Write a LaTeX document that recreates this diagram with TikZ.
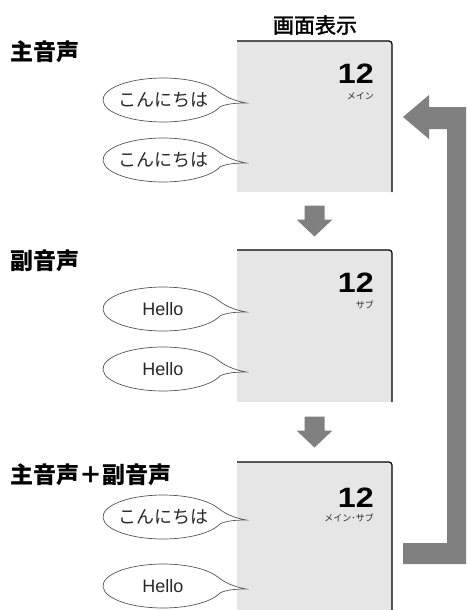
\documentclass[tikz,border=0pt]{standalone}
\usepackage{fontspec}
\setmainfont{Liberation Sans}
\newfontfamily\jp{Noto Sans CJK JP}
\newfontfamily\jpmed{Noto Sans CJK JP}[FakeBold=1.6]
\usetikzlibrary{calc}
\definecolor{scrgray}{RGB}{230,230,230}
\definecolor{arrgray}{RGB}{128,128,128}
\definecolor{bubgray}{RGB}{85,85,85}
\definecolor{textgray}{RGB}{40,40,40}
\begin{document}
\begin{tikzpicture}[x=1pt,y=1pt,
  scr/.style={fill=scrgray, minimum width=155pt, inner sep=0pt, outer sep=0pt, anchor=north west, draw=none},
  scrborder/.style={draw=black, line width=1.2pt, rounded corners=3pt},
  bub/.style={draw=bubgray, fill=white, line width=0.7pt},
  bubtext/.style={inner sep=0pt, text=textgray},
  jptext/.style={font=\jp\fontsize{18}{20}\selectfont},
  entext/.style={font=\fontsize{18}{20}\selectfont},
  num/.style={font=\bfseries\fontsize{28}{30}\selectfont, anchor=base east, inner sep=0pt},
  small/.style={font=\jp\fontsize{9}{10}\selectfont, anchor=base east, inner sep=0pt, text=textgray},
  lab/.style={font=\jp\bfseries\fontsize{23}{26}\selectfont, anchor=west, inner sep=0pt},
  title/.style={font=\jpmed\fontsize{21}{24}\selectfont, inner sep=0pt},
  bubble/.pic={
    \draw[bub] (25.8:60pt and 22pt) arc[start angle=25.8, end angle=341.8, x radius=60pt, y radius=22pt]
      .. controls (63,-4) and (72,-3) .. (83,-3)
      .. controls (72,-1) and (62,3) .. cycle;
  },
  downarr/.pic={
    \fill[arrgray] (-10,15.5) -- (10,15.5) -- (10,1.5) -- (18,1.5) -- (0,-15.5) -- (-18,1.5) -- (-10,1.5) -- cycle;
  }
]
\useasboundingbox (0,0) rectangle (466,-610);

% title
\node[title] (title) at (315,-25) {画面表示};

% screens
\node[scr, minimum height=151pt] (s1) at (237,-41) {};
\node[scr, minimum height=152pt] (s2) at (237,-250) {};
\node[scr, minimum height=148pt] (s3) at (237,-462) {};
\draw[scrborder] (s1.north west) -- (s1.north east) -- (s1.south east);
\draw[scrborder] (s2.north west) -- (s2.north east) -- (s2.south east);
\draw[scrborder] (s3.north west) -- (s3.north east) -- (s3.south east);

% labels
\node[lab] (l1) at (10,-52) {主音声};
\node[lab] (l2) at (10,-261) {副音声};
\node[lab] (l3) at (10,-475) {主音声＋副音声};

% numbers
\node[num] (n1) at (374,-83) {\scalebox{1.15}[1]{12}};
\node[small] (m1) at (374,-99.5) {メイン};
\node[num] (n2) at (374,-292) {\scalebox{1.15}[1]{12}};
\node[small] (m2) at (374,-308.5) {サブ};
\node[num] (n3) at (374,-507) {\scalebox{1.15}[1]{12}};
\node[small] (m3) at (374,-521.5) {メイン･サブ};

% bubbles
\pic at (163,-100) {bubble};
\node[bubtext, jptext] (b1) at (163,-100) {こんにちは};
\pic at (163,-160) {bubble};
\node[bubtext, jptext] (b2) at (163,-160) {こんにちは};
\pic at (163,-309) {bubble};
\node[bubtext, entext] (b3) at (163,-309) {Hello};
\pic at (163,-369) {bubble};
\node[bubtext, entext] (b4) at (163,-369) {Hello};
\pic at (163,-517) {bubble};
\node[bubtext, jptext] (b5) at (163,-517) {こんにちは};
\pic at (163,-586) {bubble};
\node[bubtext, entext] (b6) at (163,-586) {Hello};

% down arrows
\pic at ($(s1.south)!0.5!(s2.north)$) {downarr};
\pic at ($(s2.south)!0.5!(s3.north)$) {downarr};

% return arrow
\fill[arrgray] (403,-117) -- (429,-95) -- (429,-107) -- (466,-107) -- (466,-564)
  -- (403,-564) -- (403,-543) -- (447,-543) -- (447,-129) -- (429,-129) -- (429,-139) -- cycle;
\end{tikzpicture}
\end{document}
